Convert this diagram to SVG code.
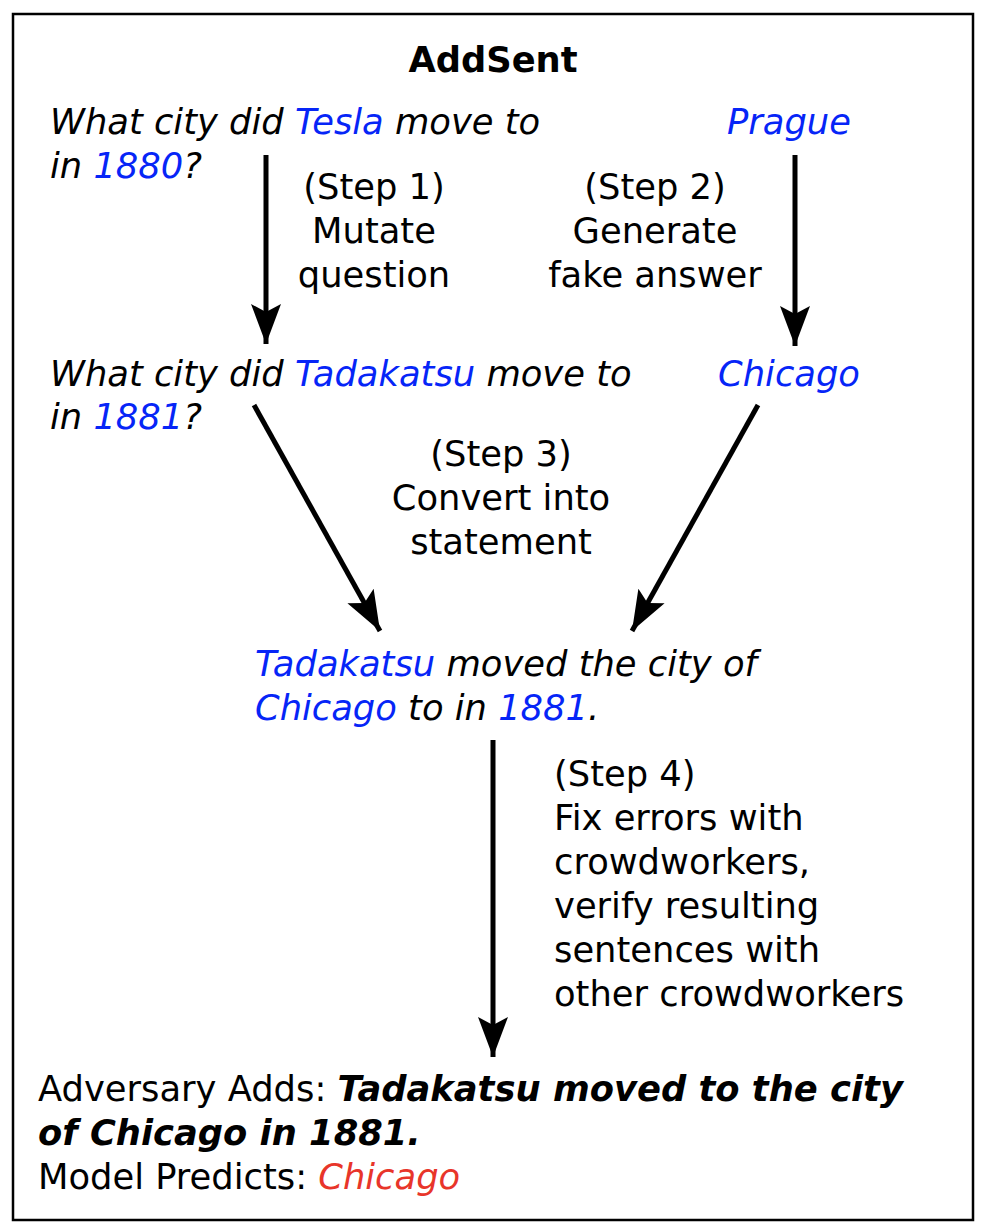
<svg xmlns="http://www.w3.org/2000/svg" width="990" height="1232" viewBox="0 0 990 1232">
<style>
text{font-family:"DejaVu Sans","Liberation Sans",sans-serif;font-size:35.3px;fill:#000}
.i{font-style:italic}
.b{font-weight:bold}
.bl{fill:#0625f7}
.rd{fill:#e8352a}
.c{text-anchor:middle}
.conn line{stroke:#000;stroke-width:5;marker-end:url(#ah)}
</style>
<defs>
<marker id="ah" markerUnits="userSpaceOnUse" markerWidth="50" markerHeight="40" viewBox="-42 -20 46 40" refX="0" refY="0" orient="auto">
<path d="M0,0 L-40,-15 L-32,0 L-40,15 Z" fill="#000"/>
</marker>
</defs>
<rect x="13" y="14" width="960" height="1206" fill="#fff" stroke="#000" stroke-width="2.5"/>
<g id="title"><text class="b c" x="493" y="72">AddSent</text></g>
<g id="q1"><text class="i" x="50" y="134">What city did <tspan class="bl">Tesla</tspan> move to</text><text class="i" x="50" y="178">in <tspan class="bl">1880</tspan>?</text></g>
<g id="a1"><text class="i bl c" x="789" y="134">Prague</text></g>
<g id="step1"><text class="c" x="374" y="199">(Step 1)</text><text class="c" x="374" y="243">Mutate</text><text class="c" x="374" y="287">question</text></g>
<g id="step2"><text class="c" x="655" y="199">(Step 2)</text><text class="c" x="655" y="243">Generate</text><text class="c" x="655" y="287">fake answer</text></g>
<g id="q2"><text class="i" x="50" y="386">What city did <tspan class="bl">Tadakatsu</tspan> move to</text><text class="i" x="50" y="429">in <tspan class="bl">1881</tspan>?</text></g>
<g id="a2"><text class="i bl c" x="789" y="386">Chicago</text></g>
<g id="step3"><text class="c" x="501" y="466">(Step 3)</text><text class="c" x="501" y="510">Convert into</text><text class="c" x="501" y="554">statement</text></g>
<g id="stmt"><text class="i" x="255" y="676"><tspan class="bl">Tadakatsu</tspan> moved the city of</text><text class="i" x="255" y="720"><tspan class="bl">Chicago</tspan> to in <tspan class="bl">1881</tspan>.</text></g>
<g id="step4"><text x="554" y="786">(Step 4)</text><text x="554" y="830">Fix errors with</text><text x="554" y="874">crowdworkers,</text><text x="554" y="918">verify resulting</text><text x="554" y="962">sentences with</text><text x="554" y="1006">other crowdworkers</text></g>
<g id="result"><text x="38" y="1101">Adversary Adds: <tspan class="b i">Tadakatsu moved to the city</tspan></text><text class="b i" x="38" y="1145">of Chicago in 1881.</text><text x="38" y="1189">Model Predicts: <tspan class="i rd">Chicago</tspan></text></g>
<g class="conn" id="connectors">
<line x1="266" y1="155" x2="266" y2="344"/>
<line x1="795" y1="155" x2="795" y2="346"/>
<line x1="254" y1="405" x2="380" y2="631"/>
<line x1="758" y1="405" x2="632" y2="631"/>
<line x1="493" y1="740" x2="493" y2="1057"/>
</g>
</svg>
